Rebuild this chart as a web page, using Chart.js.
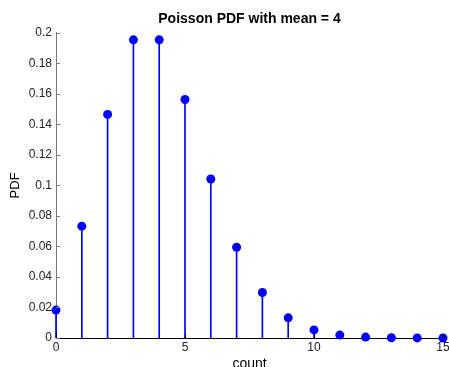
<!DOCTYPE html>
<html>
<head>
<meta charset="utf-8">
<script src="https://cdn.jsdelivr.net/npm/chart.js@4"></script>
<style>
  html, body { margin: 0; padding: 0; background: #fff; }
  #wrap { width: 449px; height: 367px; }
</style>
</head>
<body>
<div id="wrap"><canvas id="pdfChart" width="449" height="367"></canvas></div>
<script>
// Poisson PDF, mean = 4
const counts = [0, 1, 2, 3, 4, 5, 6, 7, 8, 9, 10, 11, 12, 13, 14, 15];
const pdfValues = [0.0183, 0.0733, 0.1465, 0.1954, 0.1954, 0.1563, 0.1042, 0.0595,
  0.0298, 0.0132, 0.0053, 0.0019, 0.0006, 0.0002, 0.00005, 0.00001];

const xTicks = [0, 5, 10, 15];

const points = counts.map((c, i) => ({ x: c, y: pdfValues[i] }));

const FONT = "Arial, 'Liberation Sans', Helvetica, sans-serif";

// small tick marks pointing into the plot area
const innerTicks = {
  id: 'innerTicks',
  afterDraw(chart) {
    const { ctx, chartArea, scales } = chart;
    ctx.save();
    ctx.lineWidth = 1;
    ctx.strokeStyle = '#777';
    scales.y.ticks.forEach((t) => {
      const py = Math.round(scales.y.getPixelForValue(t.value)) + 0.5;
      ctx.beginPath();
      ctx.moveTo(chartArea.left, py);
      ctx.lineTo(chartArea.left + 4, py);
      ctx.stroke();
    });
    ctx.strokeStyle = '#000';
    scales.x.ticks.forEach((t) => {
      const px = Math.round(scales.x.getPixelForValue(t.value)) + 0.5;
      ctx.beginPath();
      ctx.moveTo(px, chartArea.bottom);
      ctx.lineTo(px, chartArea.bottom - 4);
      ctx.stroke();
    });
    ctx.restore();
  }
};

new Chart(document.getElementById('pdfChart'), {
  data: {
    datasets: [
      {
        type: 'scatter',
        data: points,
        pointRadius: 4.5,
        pointHoverRadius: 4.5,
        pointBackgroundColor: '#0000ff',
        pointBorderColor: '#0000ff',
        pointBorderWidth: 0,
        clip: false
      },
      {
        type: 'bar',
        data: points,
        backgroundColor: '#0000ff',
        barThickness: 1,
        clip: false
      }
    ]
  },
  options: {
    responsive: false,
    animation: false,
    layout: { padding: { left: 0, right: 0, top: 0, bottom: 0 } },
    plugins: {
      legend: { display: false },
      tooltip: { enabled: false },
      title: {
        display: true,
        fullSize: false,
        text: 'Poisson PDF with mean = 4',
        color: '#000',
        font: { family: FONT, size: 14, weight: 'bold' },
        padding: { top: 11, bottom: 5 }
      }
    },
    scales: {
      x: {
        type: 'linear',
        offset: false,
        min: 0,
        max: 15,
        afterBuildTicks: (scale) => { scale.ticks = xTicks.map((v) => ({ value: v })); },
        afterFit: (scale) => { scale.height = 29; scale.paddingRight = 6; },
        grid: { display: false, drawTicks: false },
        border: { display: true, color: '#000', width: 1 },
        ticks: {
          color: '#222',
          font: { family: FONT, size: 12 },
          padding: 2,
          maxRotation: 0
        },
        title: {
          display: true,
          text: 'count',
          color: '#000',
          font: { family: FONT, size: 14 },
          padding: { top: 0, bottom: -6 }
        }
      },
      y: {
        min: 0,
        max: 0.2,
        afterFit: (scale) => { scale.width = 56; },
        grid: { display: false, drawTicks: false },
        border: { display: true, color: '#777', width: 1 },
        ticks: {
          stepSize: 0.02,
          color: '#222',
          font: { family: FONT, size: 12 },
          padding: 4,
          callback: (v) => String(Number(v.toFixed(2)))
        },
        title: {
          display: true,
          text: 'PDF',
          color: '#000',
          font: { family: FONT, size: 13 },
          padding: { top: 8, bottom: 0 }
        }
      }
    }
  },
  plugins: [innerTicks]
});
</script>
</body>
</html>
